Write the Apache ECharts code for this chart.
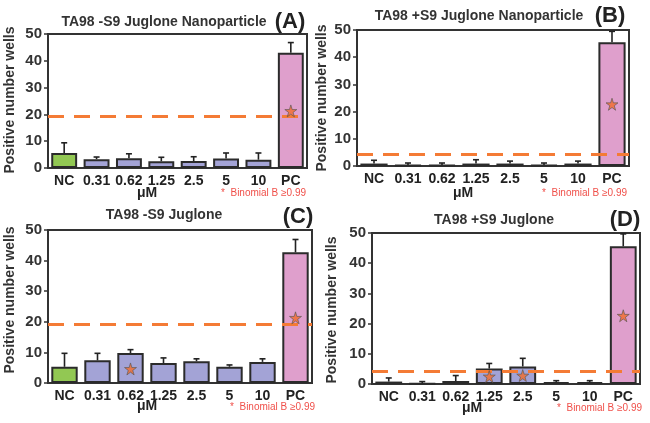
<!DOCTYPE html>
<html><head><meta charset="utf-8">
<script src="https://cdn.jsdelivr.net/npm/echarts@6/dist/echarts.min.js"></script>
<style>html,body{margin:0;padding:0;background:#fff}#c{width:650px;height:423px}</style>
</head><body><div id="c"></div>
<script>
const categories = ['NC','0.31','0.62','1.25','2.5','5','10','PC'];
const yTicks = [0,10,20,30,40,50];

const aValues = [5.6,3.3,3.6,2.5,2.6,3.5,3.1,43.0];
const aErrors = [3.8,0.8,1.7,1.5,1.6,2.1,2.5,3.8];
const aThreshold = 19.3;
const aStars = [['PC',21.3]];

const bValues = [0.9,0.4,0.4,0.9,0.9,0.4,0.9,45.5];
const bErrors = [1.2,0.7,0.7,1.4,0.9,0.7,0.9,4.0];
const bThreshold = 4.3;
const bStars = [['PC',22.7]];

const cValues = [5.3,7.4,9.8,6.5,7.1,5.3,6.9,42.7];
const cErrors = [4.4,2.3,1.1,1.7,0.8,0.6,1.0,4.2];
const cThreshold = 19.2;
const cStars = [['0.62',4.6],['PC',21.3]];

const dValues = [0.8,0.2,1.0,5.1,5.8,0.6,0.6,45.6];
const dErrors = [1.2,0.6,1.8,1.7,2.7,0.5,0.5,4.1];
const dThreshold = 4.2;
const dStars = [['1.25',2.5],['2.5',2.8],['PC',22.6]];

const titles = ['TA98 -S9 Juglone Nanoparticle','TA98 +S9 Juglone Nanoparticle','TA98 -S9 Juglone','TA98 +S9 Juglone'];
const letters = ['(A)','(B)','(C)','(D)'];

const FONT = '"Liberation Sans", Arial, sans-serif';
const colNC = '#92c853', colMid = '#a3a3d6', colPC = '#df9fcc';
const barColors = categories.map((c,i)=> i===0?colNC:(i===7?colPC:colMid));
const STAR = 'path://M50,0 L61,35 L98,35 L68,57 L79,91 L50,70 L21,91 L32,57 L2,35 L39,35 Z';

const panels = [
  {vals:aValues, errs:aErrors, thr:aThreshold, stars:aStars, grid:{left:48, top:34, width:259, height:134}},
  {vals:bValues, errs:bErrors, thr:bThreshold, stars:bStars, grid:{left:357, top:30, width:272, height:136}},
  {vals:cValues, errs:cErrors, thr:cThreshold, stars:cStars, grid:{left:48, top:230, width:264, height:153}},
  {vals:dValues, errs:dErrors, thr:dThreshold, stars:dStars, grid:{left:372, top:233, width:268, height:151}}
];

const grids=[], xAxes=[], yAxes=[], series=[];
panels.forEach((p,i)=>{
  grids.push(Object.assign({show:true, borderColor:'#333', borderWidth:2, backgroundColor:'transparent', containLabel:false}, p.grid));
  xAxes.push({type:'category', gridIndex:i, data:categories,
    axisLine:{show:true, lineStyle:{color:'#333', width:2}}, axisTick:{show:false},
    axisLabel:{color:'#222', fontSize:14, fontWeight:'bold', fontFamily:FONT, margin:6, interval:0}});
  yAxes.push({type:'value', gridIndex:i, min:yTicks[0], max:yTicks[yTicks.length-1], interval:10,
    splitLine:{show:false}, axisLine:{show:true, lineStyle:{color:'#333', width:2}},
    axisTick:{show:true, length:4, lineStyle:{color:'#333', width:1.5}},
    axisLabel:{color:'#333', fontSize:15, fontWeight:'bold', fontFamily:FONT, margin:6}});
  series.push({type:'bar', xAxisIndex:i, yAxisIndex:i, barWidth:'80%',
    data:p.vals.map((v,k)=>({value:v, itemStyle:{color:barColors[k]}})),
    itemStyle:{borderColor:'#2b2b2b', borderWidth:2}, z:2});
  series.push({type:'custom', xAxisIndex:i, yAxisIndex:i,
    data:p.vals.map((v,k)=>[k, v, v+p.errs[k]]),
    renderItem:function(params, api){
      const base = api.coord([api.value(0), api.value(1)]);
      const top = api.coord([api.value(0), api.value(2)]);
      const st = {stroke:'#222', lineWidth:1.6};
      return {type:'group', children:[
        {type:'line', shape:{x1:base[0], y1:base[1], x2:top[0], y2:top[1]}, style:st},
        {type:'line', shape:{x1:top[0]-3, y1:top[1], x2:top[0]+3, y2:top[1]}, style:st}
      ]};
    }, z:3});
  series.push({type:'scatter', xAxisIndex:i, yAxisIndex:i, data:p.stars,
    symbol:STAR, symbolSize:12, itemStyle:{color:'#f26b2b', borderColor:'#555', borderWidth:0.8}, z:6,
    markLine:{silent:true, symbol:'none', label:{show:false},
      lineStyle:{color:'#f47b35', width:3, type:[16,10]},
      data:[{yAxis:p.thr}]}});
});

const titlePos = [[164,22],[479,16],[164,215],[494,220]];
const letterPos = [[290,22],[610,16],[298,217],[625,220]];
const yNamePos = [[10,100],[322,98],[10,300],[332,310]];
const umPos = [[147,193],[463,193],[147,406],[472,408]];
const binPos = [[306,193],[627,193],[315,407],[642,408]];

const graphic=[];
for(let i=0;i<4;i++){
  graphic.push({type:'text', x:titlePos[i][0], y:titlePos[i][1], style:{text:titles[i], font:'bold 14px '+FONT, fill:'#333', textAlign:'center', textVerticalAlign:'middle'}});
  graphic.push({type:'text', x:letterPos[i][0], y:letterPos[i][1], style:{text:letters[i], font:'bold 22px '+FONT, fill:'#222', textAlign:'center', textVerticalAlign:'middle'}});
  graphic.push({type:'text', x:yNamePos[i][0], y:yNamePos[i][1], rotation:Math.PI/2, style:{text:'Positive number wells', font:'bold 14px '+FONT, fill:'#333', textAlign:'center', textVerticalAlign:'middle'}});
  graphic.push({type:'text', x:umPos[i][0], y:umPos[i][1], style:{text:'μM', font:'bold 14px '+FONT, fill:'#222', textAlign:'center', textVerticalAlign:'middle'}});
  graphic.push({type:'text', x:binPos[i][0], y:binPos[i][1], style:{text:'*  Binomial B ≥0.99', font:'10px '+FONT, fill:'#f0504a', textAlign:'right', textVerticalAlign:'middle'}});
}

const chart = echarts.init(document.getElementById('c'), null, {renderer:'canvas'});
chart.setOption({animation:false, grid:grids, xAxis:xAxes, yAxis:yAxes, series:series, graphic:graphic});
</script></body></html>
